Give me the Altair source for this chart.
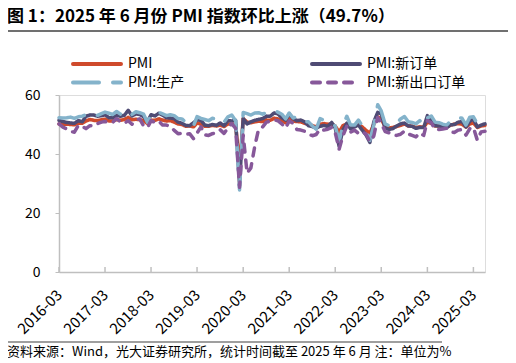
import altair as alt
import pandas as pd

title_text = "图 1：2025 年 6 月份 PMI 指数环比上涨（49.7%）"
source_text = "资料来源：Wind，光大证券研究所，统计时间截至 2025 年 6 月  注：单位为%"

series_names = ["PMI", "PMI:新订单", "PMI:生产", "PMI:新出口订单"]
series_colors = ["#CF4A2C", "#4F4B74", "#84B3CB", "#87589A"]
series_dash = [[1, 0], [1, 0], [26, 14], [8, 8]]
series_width = [3.5, 3.5, 4, 4]

tick_years = list(range(2016, 2026))

# monthly values, 2016-03 .. 2025-06
pmi = [50.2, 50.1, 50.1, 50.0, 49.9, 50.4, 50.4, 51.2, 51.7, 51.4,
       51.3, 51.6, 51.8, 51.2, 51.2, 51.7, 51.4, 51.7, 52.4, 51.6, 51.8, 51.6,
       51.3, 50.3, 51.5, 51.4, 51.9, 51.5, 51.2, 51.3, 50.8, 50.2, 50.0, 49.4,
       49.5, 49.2, 50.5, 50.1, 49.4, 49.4, 49.7, 49.5, 49.8, 49.3, 50.2, 50.2,
       50.0, 35.7, 52.0, 50.8, 50.6, 50.9, 51.1, 51.0, 51.5, 51.4, 52.1, 51.9,
       51.3, 50.6, 51.9, 51.1, 51.0, 50.9, 50.4, 50.1, 49.6, 49.2, 50.1, 50.3,
       50.1, 50.2, 49.5, 47.4, 49.6, 50.2, 49.0, 49.4, 50.1, 49.2, 48.0, 47.0,
       50.1, 52.6, 51.9, 49.2, 48.8, 49.0, 49.3, 49.7, 50.2, 49.5, 49.4, 49.0,
       49.2, 49.1, 50.8, 50.4, 49.5, 49.5, 49.4, 49.1, 49.8, 50.1, 50.3, 50.1,
       49.1, 50.2, 50.5, 49.0, 49.5, 49.7]

new_orders = [51.4, 51.0, 50.7, 50.5, 50.4, 51.3, 50.9, 52.8, 53.2, 53.2,
              52.8, 53.0, 53.3, 52.3, 52.3, 53.1, 52.8, 53.1, 54.8, 52.9, 53.6, 53.4,
              52.6, 51.0, 53.3, 52.9, 53.8, 53.2, 52.3, 52.2, 52.0, 50.8, 50.4, 49.7,
              49.6, 50.6, 51.6, 51.4, 49.8, 49.6, 50.0, 49.7, 50.5, 49.6, 51.3, 51.2,
              51.4, 29.3, 52.0, 50.2, 50.9, 51.4, 51.7, 52.0, 52.8, 52.8, 53.9, 53.6,
              52.3, 51.5, 53.6, 52.0, 51.3, 51.5, 50.9, 49.6, 49.3, 48.8, 49.4, 49.7,
              49.3, 50.7, 48.8, 42.6, 48.2, 50.4, 48.5, 49.2, 49.8, 48.1, 46.4, 43.9,
              50.9, 54.1, 53.6, 48.8, 48.3, 48.6, 49.5, 50.2, 50.5, 49.5, 49.4, 48.7,
              49.0, 49.0, 53.0, 51.1, 49.6, 49.5, 49.3, 48.9, 49.9, 50.0, 50.8, 51.0,
              49.2, 51.1, 51.8, 49.2, 49.8, 50.2]

production = [52.3, 52.2, 52.3, 52.5, 52.1, 52.6, 52.8, 53.3, 53.9, 53.3,
              53.1, 53.7, 54.2, 53.8, 53.4, 54.4, 53.5, 54.1, 54.7, 53.4, 54.3, 54.0,
              53.5, 50.7, 53.1, 53.1, 54.1, 53.6, 53.0, 53.3, 53.0, 52.0, 51.9, 50.8,
              50.9, 49.5, 52.7, 52.1, 51.7, 51.3, 52.1, 51.9, 52.3, 50.8, 52.6, 53.2,
              51.3, 27.8, 54.1, 53.7, 53.2, 53.9, 54.0, 53.5, 54.0, 53.9, 54.7, 54.2,
              53.5, 51.9, 53.9, 52.2, 52.7, 51.9, 51.0, 50.9, 49.5, 48.4, 52.0, 51.4,
              50.9, 50.4, 49.5, 44.4, 49.7, 52.8, 49.8, 49.8, 51.5, 49.6, 47.8, 44.6,
              49.8, 56.7, 54.6, 50.2, 49.6, 50.3, 50.2, 51.9, 52.7, 50.9, 50.7, 50.2,
              51.3, 49.8, 52.2, 52.9, 50.8, 50.6, 50.1, 49.8, 51.2, 52.0, 52.4, 52.1,
              49.8, 52.5, 52.6, 50.2, 50.7, 51.0]

export_orders = [50.2, 49.1, 48.5, 47.6, 47.4, 49.7, 49.4, 48.6, 49.6, 49.4,
                 50.3, 50.8, 51.0, 50.6, 50.7, 52.0, 50.9, 50.4, 51.3, 50.1, 51.5, 51.9,
                 49.5, 49.0, 51.3, 50.7, 51.2, 49.8, 49.8, 49.4, 48.0, 46.9, 47.0, 46.6,
                 46.9, 45.2, 47.1, 49.2, 46.5, 46.3, 46.9, 47.2, 48.2, 47.0, 48.8, 50.3,
                 48.7, 28.7, 46.4, 33.5, 35.3, 42.6, 48.4, 49.1, 50.8, 51.0, 51.5, 51.3,
                 50.2, 48.8, 51.2, 50.4, 48.3, 48.1, 47.7, 46.7, 46.2, 46.6, 48.5, 48.1,
                 48.4, 49.0, 47.2, 41.6, 46.2, 49.5, 47.4, 48.1, 47.0, 47.6, 46.7, 44.2,
                 46.1, 52.4, 50.4, 47.6, 47.2, 46.4, 46.3, 46.7, 47.8, 46.8, 46.3, 45.8,
                 47.2, 46.3, 51.3, 50.6, 48.3, 48.3, 48.5, 48.7, 47.5, 47.3, 48.1, 48.3,
                 46.4, 48.6, 49.0, 44.7, 47.5, 47.7]

dates = pd.date_range("2016-03-01", periods=len(pmi), freq="MS").strftime("%Y-%m-%d").tolist()

frames = []
for name, vals in zip(series_names, [pmi, new_orders, production, export_orders]):
    frames.append(pd.DataFrame({"date": dates, "value": vals, "series": name}))
df = pd.concat(frames, ignore_index=True)

FONT = "Noto Sans CJK SC"
W, H = 426, 177

x_scale = alt.Scale(type="utc",
                    domain=[alt.DateTime(year=2016, month=3, date=1, utc=True),
                            alt.DateTime(year=2025, month=6, date=1, utc=True)])
tick_vals = [alt.DateTime(year=y, month=3, date=1, utc=True) for y in tick_years]

lines = alt.Chart(df).mark_line(strokeCap="round", strokeJoin="round").encode(
    x=alt.X("date:T", scale=x_scale, title=None,
            axis=alt.Axis(values=tick_vals, format="%Y-%m", labelAngle=-45,
                          labelAlign="right", labelBaseline="middle", ticks=False,
                          labelPadding=20, labelOverlap=False, grid=False,
                          domainColor="#BFBFBF", domainWidth=1.5, labelFontSize=15,
                          labelFont=FONT, labelColor="#000000")),
    y=alt.Y("value:Q", scale=alt.Scale(domain=[0, 60], nice=False), title=None,
            axis=alt.Axis(values=[0, 20, 40, 60], grid=False, domainColor="#BFBFBF",
                          domainWidth=1.5, tickColor="#BFBFBF", tickSize=4,
                          labelPadding=15, labelFontSize=14, labelFont=FONT,
                          labelColor="#000000")),
    color=alt.Color("series:N", scale=alt.Scale(domain=series_names, range=series_colors),
                    legend=None),
    strokeDash=alt.StrokeDash("series:N", scale=alt.Scale(domain=series_names,
                              range=series_dash), legend=None),
    strokeWidth=alt.StrokeWidth("series:N", scale=alt.Scale(domain=series_names,
                                range=series_width), legend=None),
)

ticks = alt.Chart(pd.DataFrame({"date": [f"{y}-03-01" for y in tick_years]})).mark_rule(
    color="#BFBFBF", strokeWidth=1.5).encode(
    x=alt.X("date:T", scale=x_scale), y=alt.value(H), y2=alt.value(H - 5))

# hand-made legend (2 x 2 grid)
legend_layers = []
legend_pos = [(12, -31), (251, -31), (12, -12.5), (251, -12.5)]
for name, col, dash, sw, (lx, ly) in zip(series_names, series_colors, series_dash,
                                         series_width, legend_pos):
    d = pd.DataFrame({"series": [name]})
    legend_layers.append(
        alt.Chart(d).mark_rule(color=col, strokeDash=dash, strokeWidth=4,
                               strokeCap="round").encode(
            x=alt.value(lx + 2), x2=alt.value(lx + 50), y=alt.value(ly)))
    legend_layers.append(
        alt.Chart(d).mark_text(align="left", baseline="middle", font=FONT, fontSize=14,
                               color="#000000").encode(
            x=alt.value(lx + 57), y=alt.value(ly), text="series:N"))

one = pd.DataFrame({"t": [title_text], "s": [source_text]})
title = alt.Chart(one).mark_text(align="left", baseline="middle", font=FONT,
                                 fontSize=17, fontWeight="bold", color="#000000").encode(
    x=alt.value(-52), y=alt.value(-78), text="t:N")
source = alt.Chart(one).mark_text(align="left", baseline="middle", font=FONT,
                                  fontSize=13, color="#000000").encode(
    x=alt.value(-52), y=alt.value(257), text="s:N")
top_line = alt.Chart(one).mark_rule(color="#404040", strokeWidth=1.5).encode(
    x=alt.value(-54), x2=alt.value(452), y=alt.value(-64))
bottom_line = alt.Chart(one).mark_rule(color="#7F7F7F", strokeWidth=1.5).encode(
    x=alt.value(-53), x2=alt.value(383), y=alt.value(247))

chart = alt.layer(ticks, lines, *legend_layers, title, source, top_line, bottom_line).properties(
    width=W, height=H,
    autosize=alt.AutoSizeParams(type="none"),
    padding={"left": 51, "top": 87, "right": 23, "bottom": 91},
).configure_view(stroke=None).configure(background="#FFFFFF")

chart.save("out.html", embed_options={"renderer": "svg", "actions": False})
